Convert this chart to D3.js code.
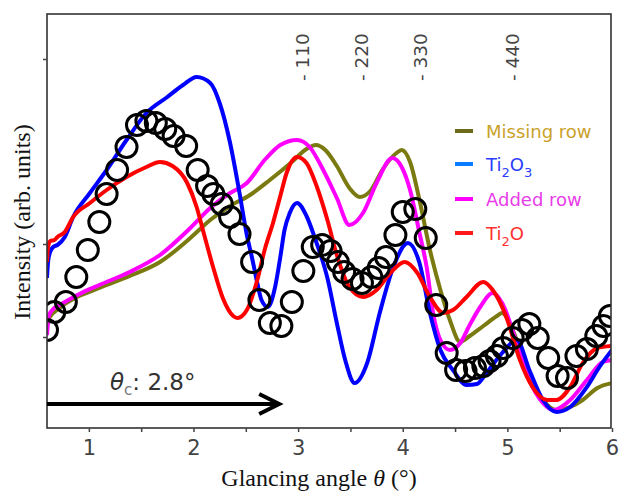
<!DOCTYPE html>
<html><head><meta charset="utf-8">
<script src="https://cdn.jsdelivr.net/npm/d3@7"></script>
<style>body{margin:0;background:#fff}svg{display:block}</style>
</head><body><svg id="c" width="621" height="494"></svg>
<script>
// ---- data (x: glancing angle in degrees, y: intensity, arb. units) ----
const xTicks = [1, 2, 3, 4, 5, 6];
const xMinorTicks = [1.5, 2.5, 3.5, 4.5, 5.5];
const yTicks = [91, 184, 369];
const peakLabels = ["- 110", "- 220", "- 330", "- 440"];
const peakPositions = [3.04, 3.61, 4.17, 5.05];
const seriesNames = ["Missing row", "Ti2O3", "Added row", "Ti2O"];

const missingRow = [[0.60,104],[0.62,110],[0.72,120],[1.10,140],[1.39,152],[1.68,166],[1.97,190],[2.16,208],[2.35,222],[2.54,233],[2.73,248],[2.94,266],[3.08,279],[3.17,283],[3.26,278],[3.37,262],[3.49,240],[3.59,231],[3.69,237],[3.81,259],[3.94,275],[3.99,278],[4.07,266],[4.16,228],[4.26,178],[4.36,138],[4.45,108],[4.55,86],[4.64,92],[4.77,102],[4.90,112],[4.95,115],[5.05,98],[5.19,58],[5.34,28],[5.47,18],[5.60,21],[5.72,28],[5.86,40],[6.00,45]];
const ti2o3 = [[0.60,150],[0.61,166],[0.63,176],[0.66,181],[0.70,183],[0.77,191],[0.85,211],[1.01,235],[1.17,258],[1.36,288],[1.55,315],[1.75,331],[1.90,343],[2.03,351],[2.16,345],[2.25,325],[2.35,285],[2.44,235],[2.51,193],[2.56,170],[2.61,145],[2.65,128],[2.71,121],[2.78,141],[2.83,171],[2.87,198],[2.92,215],[2.99,225],[3.08,212],[3.16,190],[3.28,150],[3.37,105],[3.45,68],[3.54,45],[3.66,65],[3.78,115],[3.91,161],[4.05,185],[4.16,165],[4.26,115],[4.36,78],[4.48,58],[4.61,43],[4.71,44],[4.80,55],[4.95,75],[5.09,88],[5.21,58],[5.34,28],[5.47,16],[5.60,21],[5.76,41],[5.88,61],[6.00,78]];
const addedRow = [[0.60,93],[0.62,113],[0.67,120],[0.72,123],[0.91,134],[1.10,143],[1.39,156],[1.68,173],[1.97,200],[2.16,220],[2.35,235],[2.51,245],[2.68,268],[2.83,283],[2.99,288],[3.11,281],[3.24,258],[3.37,230],[3.49,203],[3.62,215],[3.75,245],[3.90,270],[3.99,261],[4.07,238],[4.16,195],[4.23,160],[4.29,115],[4.36,88],[4.45,78],[4.55,85],[4.64,103],[4.74,121],[4.86,135],[4.95,125],[5.09,85],[5.21,48],[5.34,25],[5.44,18],[5.60,28],[5.76,48],[5.91,66],[6.00,68]];
const ti2o = [[0.60,166],[0.61,181],[0.63,187],[0.67,188],[0.70,191],[0.77,196],[0.85,211],[1.01,225],[1.17,238],[1.36,251],[1.55,261],[1.68,266],[1.80,262],[1.94,245],[2.03,221],[2.09,198],[2.19,160],[2.28,130],[2.38,112],[2.42,110],[2.51,118],[2.61,148],[2.68,178],[2.76,205],[2.83,232],[2.89,255],[2.99,271],[3.08,265],[3.18,241],[3.28,208],[3.37,173],[3.49,141],[3.62,131],[3.75,138],[3.88,155],[4.02,166],[4.14,155],[4.26,131],[4.39,115],[4.48,118],[4.61,131],[4.77,146],[4.86,138],[4.99,111],[5.12,68],[5.24,41],[5.38,28],[5.47,28],[5.60,41],[5.72,65],[5.86,80],[6.00,82]];
const experiment = [[0.60,98],[0.67,116],[0.78,126],[0.88,151],[0.99,178],[1.10,206],[1.17,234],[1.27,258],[1.36,281],[1.46,303],[1.55,307],[1.64,305],[1.73,299],[1.81,292],[1.93,282],[2.04,258],[2.13,242],[2.19,234],[2.27,224],[2.35,211],[2.44,194],[2.56,166],[2.63,128],[2.73,105],[2.84,102],[2.94,126],[3.05,157],[3.14,181],[3.23,183],[3.31,177],[3.38,166],[3.44,156],[3.52,149],[3.61,145],[3.70,151],[3.77,160],[3.84,171],[3.93,193],[4.00,216],[4.12,219],[4.22,190],[4.32,123],[4.42,75],[4.51,58],[4.60,57],[4.69,60],[4.77,62],[4.83,67],[4.90,72],[4.96,80],[5.05,90],[5.14,98],[5.21,104],[5.29,90],[5.39,70],[5.48,52],[5.57,50],[5.66,72],[5.76,79],[5.85,92],[5.92,102],[5.98,112]];
const criticalAngle = 2.8;

// ---- layout ----
const svg = d3.select("#c");
const L = 47, R = 611, T = 14, B = 428;
const x = d3.scaleLinear().domain([0.6, 6]).range([L, R + 1]);
const y = d3.scaleLinear().domain([0, 414]).range([B, T]);

svg.append("defs").append("clipPath").attr("id", "clip")
  .append("rect").attr("x", L).attr("y", T).attr("width", R - L).attr("height", B - T);

// curves
const line = d3.line().x(d => x(d[0])).y(d => y(d[1])).curve(d3.curveMonotoneX);
const plot = svg.append("g").attr("clip-path", "url(#clip)");
const curves = [
  {data: missingRow, color: "#7a7a10"},
  {data: addedRow, color: "#ff00ff"},
  {data: ti2o3, color: "#0000ff"},
  {data: ti2o, color: "#ff0000"}
];
curves.forEach(c => plot.append("path").attr("d", line(c.data)).attr("fill", "none")
  .attr("stroke", c.color).attr("stroke-width", 4).attr("stroke-linejoin", "round"));

// experimental circles
plot.selectAll("circle.exp").data(experiment).join("circle").attr("class", "exp")
  .attr("cx", d => x(d[0])).attr("cy", d => y(d[1])).attr("r", 10.5)
  .attr("fill", "none").attr("stroke", "#000").attr("stroke-width", 3);

// frame
svg.append("rect").attr("x", L).attr("y", T).attr("width", R - L).attr("height", B - T)
  .attr("fill", "none").attr("stroke", "#333").attr("stroke-width", 1.6);

// x axis
const xAxis = d3.axisBottom(x).tickValues(xTicks).tickSize(4).tickFormat(d3.format("d"));
const gx = svg.append("g").attr("transform", `translate(0,${B})`).call(xAxis);
gx.select(".domain").remove();
gx.selectAll(".tick line").attr("stroke", "#444").attr("stroke-width", 1.5);
gx.selectAll(".tick text").attr("font-family", "DejaVu Sans").attr("font-size", 21)
  .attr("fill", "#444").attr("dy", "0.95em");
const gxm = svg.append("g").attr("transform", `translate(0,${B})`)
  .call(d3.axisBottom(x).tickValues(xMinorTicks).tickSize(4).tickFormat(""));
gxm.select(".domain").remove();
gxm.selectAll(".tick line").attr("stroke", "#444").attr("stroke-width", 1.5);

// y axis ticks (no labels)
const gy = svg.append("g").attr("transform", `translate(${L},0)`)
  .call(d3.axisLeft(y).tickValues(yTicks).tickSize(4).tickFormat(""));
gy.select(".domain").remove();
gy.selectAll(".tick line").attr("stroke", "#444").attr("stroke-width", 1.5);

// axis titles
const xt = svg.append("text").attr("x", 319).attr("y", 486).attr("text-anchor", "middle")
  .attr("font-family", "Liberation Serif").attr("font-size", 24).attr("fill", "#111");
xt.append("tspan").text("Glancing angle ");
xt.append("tspan").attr("font-style", "italic").text("θ");
xt.append("tspan").text("  (°)");
svg.append("text").attr("transform", "translate(30,222) rotate(-90)").attr("text-anchor", "middle")
  .attr("font-family", "Liberation Serif").attr("font-size", 24).attr("fill", "#111")
  .text("Intensity (arb. units)");

// peak labels
svg.selectAll("text.pk").data(peakLabels).join("text").attr("class", "pk")
  .attr("transform", (d, i) => `translate(${x(peakPositions[i]) + 6.5},81) rotate(-90)`)
  .attr("font-family", "DejaVu Sans").attr("font-size", 18.5).attr("fill", "#444")
  .text(d => d);

// legend
const legendColors = ["#6b6b1a", "#0a7cff", "#ff00ff", "#ff1a1a"];
const legendText = ["#caa22a", "#2a3cff", "#e83ce8", "#ff3030"];
const legendY = [131, 164, 199, 233];
const lg = svg.append("g");
seriesNames.forEach((n, i) => {
  const yy = legendY[i];
  lg.append("line").attr("x1", 455).attr("x2", 473).attr("y1", yy).attr("y2", yy)
    .attr("stroke", legendColors[i]).attr("stroke-width", 4);
  const t = lg.append("text").attr("x", 486).attr("y", yy + 7)
    .attr("font-family", "DejaVu Sans").attr("font-size", 18).attr("fill", legendText[i]);
  const m = n.match(/^Ti2O(3?)$/);
  if (m) {
    t.append("tspan").text("Ti");
    t.append("tspan").attr("font-size", 13).attr("dy", 6).text("2");
    t.append("tspan").attr("dy", -6).text("O");
    if (m[1]) t.append("tspan").attr("font-size", 13).attr("dy", 6).text("3");
  } else t.text(n);
});

// critical angle arrow
const ay = 404;
svg.append("line").attr("x1", L).attr("x2", x(criticalAngle) + 2).attr("y1", ay).attr("y2", ay)
  .attr("stroke", "#000").attr("stroke-width", 4);
svg.append("path")
  .attr("d", `M${x(criticalAngle) - 18},${ay - 10} L${x(criticalAngle) + 2},${ay} L${x(criticalAngle) - 18},${ay + 10}`)
  .attr("fill", "none").attr("stroke", "#000").attr("stroke-width", 4).attr("stroke-linejoin", "miter");
const ct = svg.append("text").attr("x", 110).attr("y", 390)
  .attr("font-family", "DejaVu Sans").attr("font-size", 23).attr("fill", "#333");
ct.append("tspan").attr("font-style", "italic").text("θ");
ct.append("tspan").attr("font-size", 15).attr("dy", 5).attr("fill", "#777").text("c");
ct.append("tspan").attr("dy", -5).text(": 2.8°");
</script></body></html>
